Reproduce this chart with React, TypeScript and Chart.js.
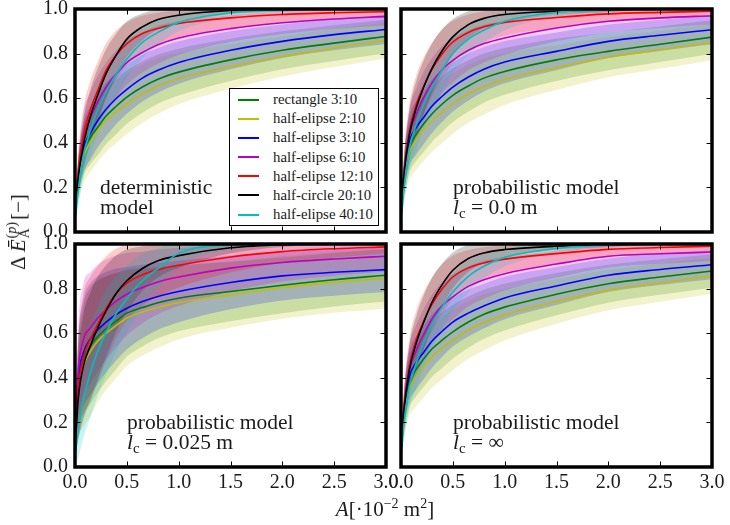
import React, { useEffect, useRef } from 'react';
import { Chart, registerables } from 'chart.js';

Chart.register(...registerables);

const FONT = '"Liberation Serif", "Times New Roman", serif';

// Contact area A [·10^-2 m^2] at which every curve is sampled
const AREA_X = [0, 0.03, 0.08, 0.15, 0.22, 0.3, 0.4, 0.5, 0.65, 0.8, 1.0, 1.5, 2.0, 2.5, 3.0];

const SERIES_NAMES = [
  'rectangle 3:10',
  'half-elipse 2:10',
  'half-elipse 3:10',
  'half-elipse 6:10',
  'half-elipse 12:10',
  'half-circle 20:10',
  'half-elipse 40:10',
];
const SERIES_COLORS = ['#008000', '#bfbf00', '#0000ff', '#bf00bf', '#ff0000', '#000000', '#00bfbf'];
const BAND_COLORS = [
  'rgba(0,128,0,0.2)',
  'rgba(191,191,0,0.2)',
  'rgba(0,0,255,0.2)',
  'rgba(191,0,191,0.2)',
  'rgba(255,0,0,0.2)',
  'rgba(0,0,0,0.2)',
  'rgba(0,191,191,0.2)',
];

// deterministic model: mean curves
const detRect = [0.08, 0.23, 0.36, 0.425, 0.47, 0.52, 0.565, 0.605, 0.65, 0.685, 0.717, 0.772, 0.815, 0.847, 0.877];
const detElip2 = [0.07, 0.22, 0.335, 0.405, 0.455, 0.5, 0.54, 0.575, 0.62, 0.655, 0.688, 0.742, 0.787, 0.825, 0.858];
const detElip3 = [0.08, 0.24, 0.375, 0.445, 0.5, 0.55, 0.6, 0.64, 0.69, 0.725, 0.76, 0.815, 0.855, 0.885, 0.908];
const detElip6 = [0.08, 0.25, 0.42, 0.515, 0.585, 0.65, 0.71, 0.76, 0.805, 0.84, 0.87, 0.912, 0.938, 0.955, 0.967];
const detElip12 = [0.08, 0.26, 0.43, 0.55, 0.635, 0.725, 0.795, 0.845, 0.89, 0.913, 0.935, 0.96, 0.975, 0.983, 0.988];
const detCircle = [0.07, 0.24, 0.39, 0.52, 0.615, 0.71, 0.795, 0.865, 0.92, 0.953, 0.972, 0.993, 0.998, 1.0, 1.0];
const detElip40 = [0.05, 0.18, 0.34, 0.46, 0.55, 0.63, 0.71, 0.775, 0.85, 0.895, 0.94, 0.983, 0.995, 0.999, 1.0];
// deterministic model: standard deviations
const detRectSd = [0.03, 0.08, 0.11, 0.12, 0.125, 0.125, 0.125, 0.12, 0.115, 0.11, 0.105, 0.095, 0.085, 0.08, 0.075];
const detElip2Sd = [0.03, 0.09, 0.12, 0.135, 0.14, 0.14, 0.14, 0.135, 0.13, 0.125, 0.115, 0.1, 0.09, 0.085, 0.08];
const detElip3Sd = [0.03, 0.08, 0.11, 0.12, 0.12, 0.12, 0.115, 0.11, 0.105, 0.1, 0.095, 0.085, 0.075, 0.07, 0.065];
const detElip6Sd = [0.03, 0.08, 0.11, 0.115, 0.115, 0.11, 0.105, 0.1, 0.09, 0.085, 0.075, 0.06, 0.05, 0.045, 0.04];
const detElip12Sd = [0.03, 0.09, 0.12, 0.13, 0.13, 0.12, 0.11, 0.095, 0.08, 0.07, 0.06, 0.045, 0.035, 0.03, 0.025];
const detCircleSd = [0.03, 0.08, 0.11, 0.12, 0.12, 0.11, 0.095, 0.08, 0.06, 0.045, 0.035, 0.015, 0.01, 0.005, 0.005];
const detElip40Sd = [0.02, 0.07, 0.1, 0.11, 0.11, 0.105, 0.095, 0.085, 0.07, 0.055, 0.04, 0.02, 0.01, 0.005, 0.005];

// probabilistic model, l_c = 0.0 m
const lc0Rect = [0.08, 0.24, 0.375, 0.44, 0.485, 0.53, 0.575, 0.613, 0.655, 0.69, 0.72, 0.772, 0.81, 0.842, 0.874];
const lc0Elip2 = [0.07, 0.23, 0.352, 0.415, 0.46, 0.5, 0.54, 0.576, 0.62, 0.652, 0.685, 0.737, 0.784, 0.817, 0.85];
const lc0Elip3 = [0.08, 0.26, 0.404, 0.47, 0.515, 0.565, 0.61, 0.65, 0.695, 0.73, 0.762, 0.81, 0.855, 0.882, 0.907];
const lc0Elip6 = [0.08, 0.27, 0.434, 0.53, 0.605, 0.67, 0.73, 0.77, 0.815, 0.845, 0.87, 0.915, 0.945, 0.96, 0.97];
const lc0Elip12 = [0.08, 0.27, 0.45, 0.575, 0.655, 0.73, 0.8, 0.852, 0.895, 0.92, 0.94, 0.962, 0.978, 0.985, 0.99];
const lc0Circle = [0.07, 0.26, 0.434, 0.56, 0.65, 0.735, 0.815, 0.875, 0.93, 0.958, 0.975, 0.99, 0.997, 1.0, 1.0];
const lc0Elip40 = [0.05, 0.2, 0.375, 0.485, 0.575, 0.65, 0.73, 0.8, 0.865, 0.905, 0.945, 0.985, 0.996, 0.999, 1.0];
const lc0RectSd = [0.03, 0.08, 0.11, 0.12, 0.125, 0.125, 0.125, 0.12, 0.115, 0.11, 0.105, 0.095, 0.085, 0.08, 0.075];
const lc0Elip2Sd = [0.03, 0.09, 0.12, 0.135, 0.14, 0.14, 0.14, 0.135, 0.13, 0.125, 0.115, 0.1, 0.09, 0.085, 0.08];
const lc0Elip3Sd = [0.03, 0.08, 0.11, 0.12, 0.12, 0.12, 0.115, 0.11, 0.105, 0.1, 0.095, 0.085, 0.075, 0.07, 0.065];
const lc0Elip6Sd = [0.03, 0.08, 0.11, 0.115, 0.115, 0.11, 0.105, 0.1, 0.09, 0.085, 0.075, 0.06, 0.05, 0.045, 0.04];
const lc0Elip12Sd = [0.03, 0.09, 0.12, 0.13, 0.13, 0.12, 0.11, 0.095, 0.08, 0.07, 0.06, 0.045, 0.035, 0.03, 0.025];
const lc0CircleSd = [0.03, 0.08, 0.11, 0.12, 0.12, 0.11, 0.095, 0.08, 0.06, 0.045, 0.035, 0.015, 0.01, 0.005, 0.005];
const lc0Elip40Sd = [0.02, 0.07, 0.1, 0.11, 0.11, 0.105, 0.095, 0.085, 0.07, 0.055, 0.04, 0.02, 0.01, 0.005, 0.005];

// probabilistic model, l_c = 0.025 m
const l25Rect = [0.08, 0.36, 0.48, 0.545, 0.585, 0.62, 0.655, 0.69, 0.715, 0.737, 0.757, 0.787, 0.815, 0.84, 0.86];
const l25Elip2 = [0.07, 0.33, 0.45, 0.52, 0.565, 0.6, 0.635, 0.668, 0.695, 0.715, 0.737, 0.772, 0.805, 0.828, 0.845];
const l25Elip3 = [0.08, 0.38, 0.51, 0.575, 0.615, 0.65, 0.685, 0.712, 0.742, 0.765, 0.787, 0.827, 0.857, 0.873, 0.885];
const l25Elip6 = [0.09, 0.42, 0.57, 0.625, 0.668, 0.705, 0.745, 0.775, 0.805, 0.83, 0.852, 0.892, 0.917, 0.933, 0.945];
const l25Elip12 = [0.08, 0.34, 0.49, 0.575, 0.64, 0.71, 0.78, 0.825, 0.862, 0.885, 0.905, 0.942, 0.966, 0.979, 0.987];
const l25Circle = [0.07, 0.3, 0.45, 0.545, 0.625, 0.7, 0.78, 0.835, 0.89, 0.925, 0.948, 0.983, 0.997, 1.0, 1.0];
const l25Elip40 = [0.05, 0.16, 0.3, 0.425, 0.52, 0.605, 0.69, 0.755, 0.835, 0.89, 0.958, 0.995, 0.999, 1.0, 1.0];
const l25RectSd = [0.04, 0.18, 0.24, 0.26, 0.25, 0.235, 0.215, 0.195, 0.175, 0.16, 0.148, 0.133, 0.125, 0.12, 0.118];
const l25Elip2Sd = [0.04, 0.2, 0.27, 0.29, 0.275, 0.255, 0.235, 0.215, 0.195, 0.18, 0.165, 0.148, 0.14, 0.136, 0.135];
const l25Elip3Sd = [0.04, 0.18, 0.24, 0.25, 0.24, 0.225, 0.205, 0.185, 0.165, 0.15, 0.138, 0.12, 0.11, 0.105, 0.1];
const l25Elip6Sd = [0.04, 0.2, 0.25, 0.25, 0.24, 0.225, 0.205, 0.185, 0.16, 0.145, 0.13, 0.105, 0.085, 0.075, 0.068];
const l25Elip12Sd = [0.04, 0.22, 0.28, 0.28, 0.26, 0.235, 0.2, 0.17, 0.14, 0.12, 0.1, 0.07, 0.05, 0.04, 0.03];
const l25CircleSd = [0.04, 0.18, 0.23, 0.24, 0.23, 0.205, 0.17, 0.14, 0.1, 0.075, 0.055, 0.025, 0.01, 0.005, 0.005];
const l25Elip40Sd = [0.03, 0.12, 0.17, 0.2, 0.2, 0.19, 0.17, 0.15, 0.12, 0.09, 0.06, 0.02, 0.008, 0.005, 0.005];

// probabilistic model, l_c = infinity
const infRect = [0.08, 0.24, 0.375, 0.44, 0.485, 0.53, 0.57, 0.606, 0.65, 0.685, 0.717, 0.775, 0.822, 0.852, 0.879];
const infElip2 = [0.07, 0.22, 0.345, 0.41, 0.452, 0.495, 0.535, 0.569, 0.615, 0.648, 0.682, 0.742, 0.793, 0.826, 0.857];
const infElip3 = [0.08, 0.26, 0.404, 0.47, 0.515, 0.565, 0.61, 0.65, 0.69, 0.722, 0.758, 0.812, 0.86, 0.886, 0.907];
const infElip6 = [0.08, 0.27, 0.434, 0.525, 0.595, 0.665, 0.725, 0.763, 0.81, 0.84, 0.867, 0.91, 0.945, 0.956, 0.964];
const infElip12 = [0.08, 0.27, 0.45, 0.575, 0.655, 0.73, 0.8, 0.852, 0.893, 0.915, 0.932, 0.957, 0.976, 0.984, 0.99];
const infCircle = [0.07, 0.26, 0.434, 0.56, 0.65, 0.74, 0.82, 0.882, 0.935, 0.96, 0.975, 0.99, 0.997, 1.0, 1.0];
const infElip40 = [0.05, 0.2, 0.36, 0.47, 0.56, 0.64, 0.72, 0.785, 0.855, 0.9, 0.94, 0.98, 0.995, 0.999, 1.0];
const infRectSd = [0.03, 0.08, 0.11, 0.12, 0.125, 0.125, 0.125, 0.12, 0.115, 0.11, 0.105, 0.095, 0.085, 0.08, 0.075];
const infElip2Sd = [0.03, 0.09, 0.12, 0.135, 0.14, 0.14, 0.14, 0.135, 0.13, 0.125, 0.115, 0.1, 0.09, 0.085, 0.08];
const infElip3Sd = [0.03, 0.08, 0.11, 0.12, 0.12, 0.12, 0.115, 0.11, 0.105, 0.1, 0.095, 0.085, 0.075, 0.07, 0.065];
const infElip6Sd = [0.03, 0.08, 0.11, 0.115, 0.115, 0.11, 0.105, 0.1, 0.09, 0.085, 0.075, 0.06, 0.05, 0.045, 0.04];
const infElip12Sd = [0.03, 0.09, 0.12, 0.13, 0.13, 0.12, 0.11, 0.095, 0.08, 0.07, 0.06, 0.045, 0.035, 0.03, 0.025];
const infCircleSd = [0.03, 0.08, 0.11, 0.12, 0.12, 0.11, 0.095, 0.08, 0.06, 0.045, 0.035, 0.015, 0.01, 0.005, 0.005];
const infElip40Sd = [0.02, 0.07, 0.1, 0.11, 0.11, 0.105, 0.095, 0.085, 0.07, 0.055, 0.04, 0.02, 0.01, 0.005, 0.005];

// Space kept around each plot area inside its canvas (tick labels live here)
const MARGIN = { left: 80, right: 24, top: 20, bottom: 44 };
const PLOT_W = 311;
const PLOT_H = 223;

// Thick axes frame with inward ticks on all four sides
const framePlugin = {
  id: 'frame',
  afterDraw(chart: any) {
    const { ctx, chartArea: a, scales } = chart;
    const len = 5.5;
    ctx.save();
    ctx.strokeStyle = '#000';
    ctx.lineWidth = 1;
    ctx.beginPath();
    for (const t of scales.x.ticks) {
      const px = Math.round(scales.x.getPixelForValue(t.value)) + 0.5;
      ctx.moveTo(px, a.top);
      ctx.lineTo(px, a.top + len);
      ctx.moveTo(px, a.bottom);
      ctx.lineTo(px, a.bottom - len);
    }
    for (const t of scales.y.ticks) {
      const py = Math.round(scales.y.getPixelForValue(t.value)) + 0.5;
      ctx.moveTo(a.left, py);
      ctx.lineTo(a.left + len, py);
      ctx.moveTo(a.right, py);
      ctx.lineTo(a.right - len, py);
    }
    ctx.stroke();
    ctx.lineWidth = 3.5;
    ctx.strokeRect(a.left, a.top, a.right - a.left, a.bottom - a.top);
    ctx.restore();
  },
};

type PanelProps = {
  means: number[][];
  sds: number[][];
  left: number;
  top: number;
  showX: boolean;
  showY: boolean;
};

function Panel({ means, sds, left, top, showX, showY }: PanelProps) {
  const ref = useRef<HTMLCanvasElement>(null);

  useEffect(() => {
    if (!ref.current) return;
    const datasets: any[] = [];
    means.forEach((mean, i) => {
      const sd = sds[i];
      datasets.push({
        data: AREA_X.map((x, k) => ({ x, y: mean[k] - sd[k] })),
        borderColor: 'transparent',
        borderWidth: 0,
        pointRadius: 0,
        fill: false,
        cubicInterpolationMode: 'monotone',
        order: 100 - i,
      });
      datasets.push({
        data: AREA_X.map((x, k) => ({ x, y: mean[k] + sd[k] })),
        borderColor: 'transparent',
        borderWidth: 0,
        pointRadius: 0,
        backgroundColor: BAND_COLORS[i],
        fill: '-1',
        cubicInterpolationMode: 'monotone',
        order: 100 - i,
      });
    });
    means.forEach((mean, i) => {
      datasets.push({
        label: SERIES_NAMES[i],
        data: AREA_X.map((x, k) => ({ x, y: mean[k] })),
        borderColor: SERIES_COLORS[i],
        borderWidth: 1.6,
        pointRadius: 0,
        fill: false,
        cubicInterpolationMode: 'monotone',
        order: 50 - i,
      });
    });

    const tickFont = { family: FONT, size: 20 };
    const chart = new Chart(ref.current, {
      type: 'line',
      data: { datasets },
      options: {
        responsive: false,
        animation: false,
        events: [],
        layout: { padding: { left: 0, right: MARGIN.right, top: MARGIN.top, bottom: 0 } },
        plugins: { legend: { display: false }, tooltip: { enabled: false } },
        scales: {
          x: {
            type: 'linear',
            min: 0,
            max: 3,
            grid: { display: false, drawTicks: false },
            border: { display: false },
            ticks: {
              display: showX,
              stepSize: 0.5,
              padding: 4,
              maxRotation: 0,
              autoSkip: false,
              color: '#1a1a1a',
              font: tickFont,
              callback: (v: any) => Number(v).toFixed(1),
            },
            afterFit: (s: any) => {
              s.height = MARGIN.bottom;
            },
          },
          y: {
            type: 'linear',
            min: 0,
            max: 1,
            grid: { display: false, drawTicks: false },
            border: { display: false },
            ticks: {
              display: showY,
              stepSize: 0.2,
              padding: 7,
              autoSkip: false,
              color: '#1a1a1a',
              font: tickFont,
              callback: (v: any) => Number(v).toFixed(1),
            },
            afterFit: (s: any) => {
              s.width = MARGIN.left;
            },
          },
        },
      },
      plugins: [framePlugin],
    } as any);
    return () => chart.destroy();
  }, [means, sds, showX, showY]);

  return (
    <canvas
      ref={ref}
      width={PLOT_W + MARGIN.left + MARGIN.right}
      height={PLOT_H + MARGIN.top + MARGIN.bottom}
      style={{ position: 'absolute', left: left - MARGIN.left, top: top - MARGIN.top }}
    />
  );
}

const PANELS = [
  {
    key: 'det',
    means: [detRect, detElip2, detElip3, detElip6, detElip12, detCircle, detElip40],
    sds: [detRectSd, detElip2Sd, detElip3Sd, detElip6Sd, detElip12Sd, detCircleSd, detElip40Sd],
    left: 75,
    top: 9,
    showX: false,
    showY: true,
  },
  {
    key: 'lc0',
    means: [lc0Rect, lc0Elip2, lc0Elip3, lc0Elip6, lc0Elip12, lc0Circle, lc0Elip40],
    sds: [lc0RectSd, lc0Elip2Sd, lc0Elip3Sd, lc0Elip6Sd, lc0Elip12Sd, lc0CircleSd, lc0Elip40Sd],
    left: 401,
    top: 9,
    showX: false,
    showY: false,
  },
  {
    key: 'l25',
    means: [l25Rect, l25Elip2, l25Elip3, l25Elip6, l25Elip12, l25Circle, l25Elip40],
    sds: [l25RectSd, l25Elip2Sd, l25Elip3Sd, l25Elip6Sd, l25Elip12Sd, l25CircleSd, l25Elip40Sd],
    left: 75,
    top: 244,
    showX: true,
    showY: true,
  },
  {
    key: 'inf',
    means: [infRect, infElip2, infElip3, infElip6, infElip12, infCircle, infElip40],
    sds: [infRectSd, infElip2Sd, infElip3Sd, infElip6Sd, infElip12Sd, infCircleSd, infElip40Sd],
    left: 401,
    top: 244,
    showX: true,
    showY: false,
  },
];

const noteStyle: React.CSSProperties = {
  position: 'absolute',
  fontFamily: FONT,
  fontSize: 21.5,
  lineHeight: '20px',
  color: '#1a1a1a',
  whiteSpace: 'nowrap',
};

function Lc({ value }: { value: string }) {
  return (
    <span>
      <i>l</i>
      <sub style={{ fontSize: 15, verticalAlign: '-4px', lineHeight: 0 }}>c</sub> = {value}
    </span>
  );
}

export default function App() {
  return (
    <div
      style={{
        position: 'absolute',
        left: 0,
        top: 0,
        width: 730,
        height: 525,
        overflow: 'hidden',
        background: '#fff',
      }}
    >
      {PANELS.map((p) => (
        <Panel key={p.key} means={p.means} sds={p.sds} left={p.left} top={p.top} showX={p.showX} showY={p.showY} />
      ))}

      <div style={{ ...noteStyle, left: 100, top: 177 }}>
        deterministic
        <br />
        model
      </div>
      <div style={{ ...noteStyle, left: 453, top: 177 }}>
        probabilistic model
        <br />
        <Lc value="0.0 m" />
      </div>
      <div style={{ ...noteStyle, left: 127, top: 412 }}>
        probabilistic model
        <br />
        <Lc value="0.025 m" />
      </div>
      <div style={{ ...noteStyle, left: 453, top: 412 }}>
        probabilistic model
        <br />
        <Lc value="∞" />
      </div>

      {/* legend of the deterministic panel */}
      <div
        style={{
          position: 'absolute',
          left: 229,
          top: 88,
          width: 150,
          height: 138,
          boxSizing: 'border-box',
          border: '1.3px solid #000',
          background: '#fff',
          paddingTop: 1,
          fontFamily: FONT,
          fontSize: 14.8,
          color: '#1a1a1a',
        }}
      >
        {SERIES_NAMES.map((name, i) => (
          <div key={name} style={{ display: 'flex', alignItems: 'center', height: 19.17 }}>
            <span
              style={{
                display: 'inline-block',
                marginLeft: 8,
                width: 21,
                height: 2,
                background: SERIES_COLORS[i],
              }}
            />
            <span style={{ marginLeft: 14, whiteSpace: 'nowrap' }}>{name}</span>
          </div>
        ))}
      </div>

      {/* y-axis title */}
      <div
        style={{
          position: 'absolute',
          left: 18,
          top: 232,
          transform: 'translate(-50%, -50%) rotate(-90deg)',
          fontFamily: FONT,
          fontSize: 21,
          color: '#1a1a1a',
          whiteSpace: 'nowrap',
          display: 'flex',
          alignItems: 'center',
        }}
      >
        <span>Δ&#8201;</span>
        <i>Ē</i>
        <span
          style={{
            display: 'inline-flex',
            flexDirection: 'column',
            fontSize: 14,
            lineHeight: '13px',
            marginLeft: 1,
            marginRight: 2,
          }}
        >
          <span>
            (<i>p</i>)
          </span>
          <span>A</span>
        </span>
        <span>[−]</span>
      </div>

      {/* x-axis title */}
      <div
        style={{
          position: 'absolute',
          left: 385,
          top: 509,
          transform: 'translate(-50%, -50%)',
          fontFamily: FONT,
          fontSize: 21,
          color: '#1a1a1a',
          whiteSpace: 'nowrap',
        }}
      >
        <i>A</i>[·10<sup style={{ fontSize: 14, lineHeight: 0 }}>−2</sup> m<sup style={{ fontSize: 14, lineHeight: 0 }}>2</sup>]
      </div>
    </div>
  );
}
